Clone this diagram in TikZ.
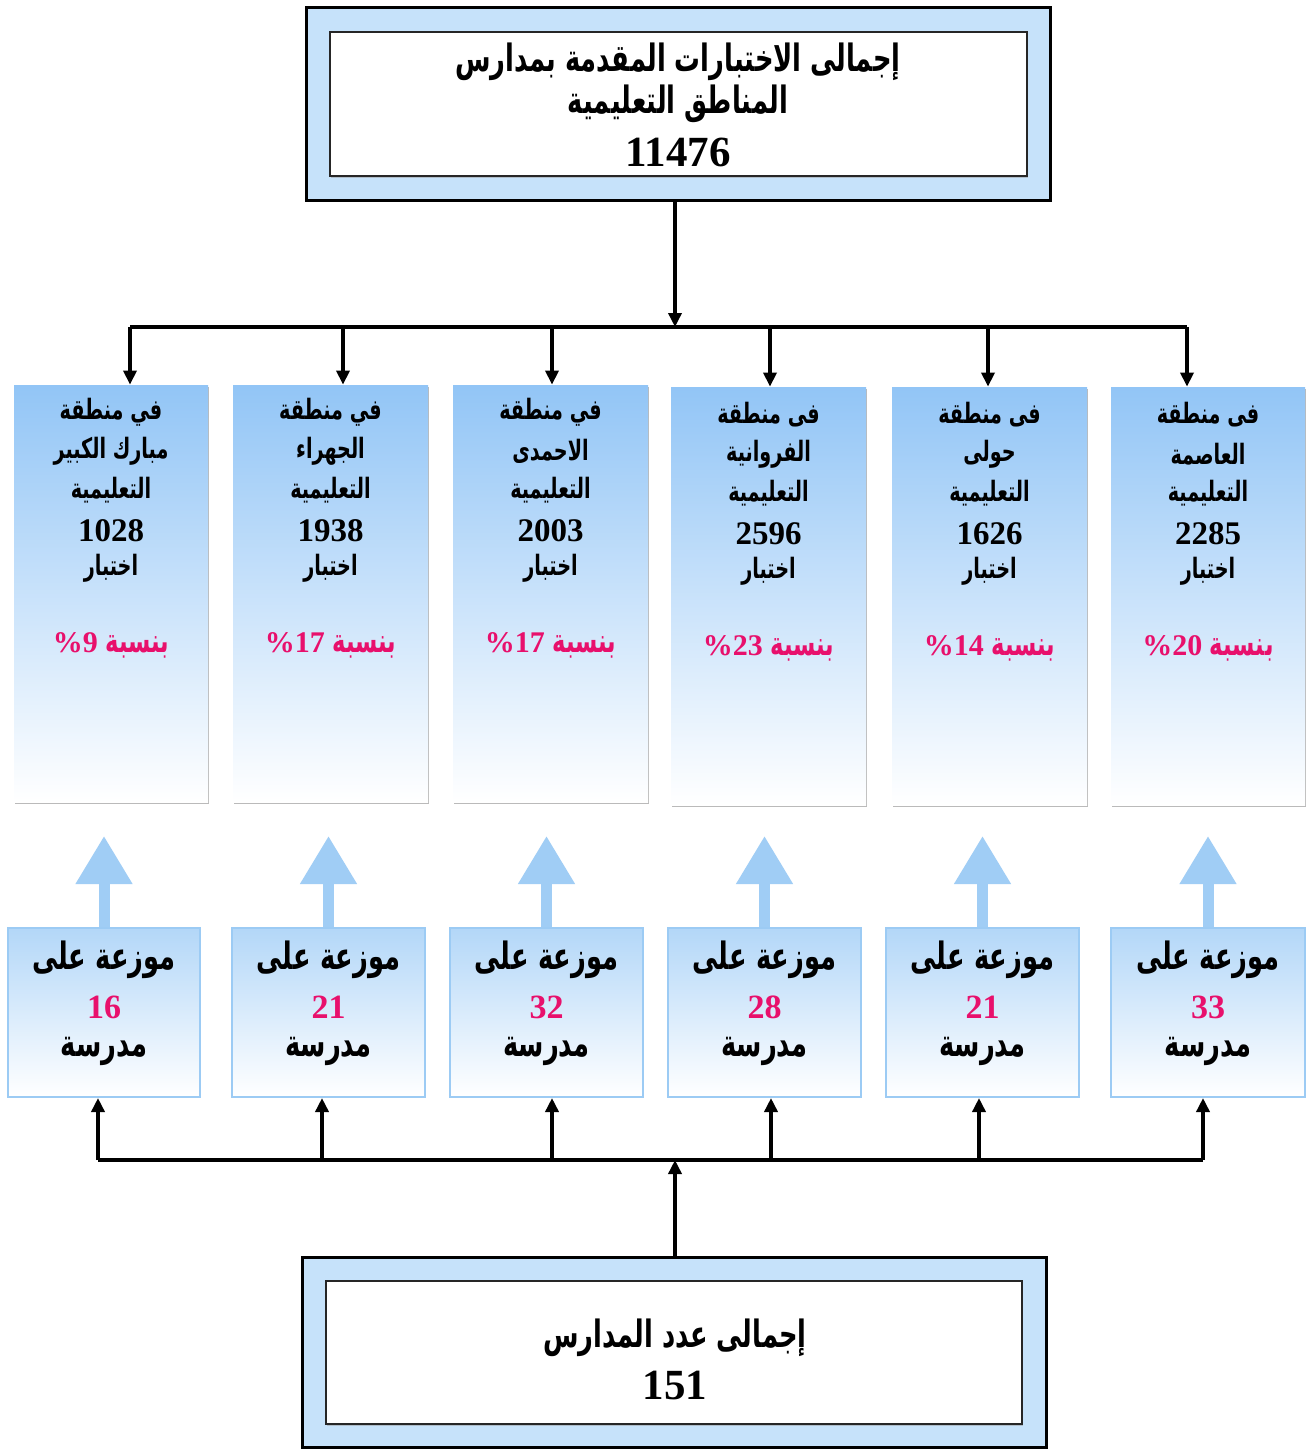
\documentclass[tikz,border=0pt]{standalone}
\usepackage{graphicx}
\usepackage{fontspec}
\setmainfont{Liberation Serif}
\newfontfamily\arabicfont[Script=Arabic]{DejaVu Sans}
\TeXXeTstate=1
\usetikzlibrary{arrows.meta,shadows,fit,calc}
\definecolor{outerblue}{HTML}{C6E2FA}
\definecolor{topblue}{HTML}{92C5F6}
\definecolor{lowtop}{HTML}{B3D7F8}
\definecolor{lowborder}{HTML}{9CCBF4}
\definecolor{arrowblue}{HTML}{A0CDF5}
\definecolor{pinkc}{HTML}{E8106C}
\newcommand\artxt[1]{\scalebox{0.78}[1.14]{\arabicfont\bfseries\beginR #1\endR}}
\begin{document}
\begin{tikzpicture}[x=0.5pt,y=-0.5pt,
  outerbox/.style={draw=black, line width=1.5pt, fill=outerblue, inner sep=0pt,
    drop shadow={shadow xshift=0.6pt, shadow yshift=-0.8pt, fill=black!45, opacity=0.6}},
  innerbox/.style={draw=black!85, line width=1.4pt, fill=white, inner sep=0pt,
    drop shadow={shadow xshift=0.6pt, shadow yshift=-0.8pt, fill=black!40, opacity=0.5}},
  regbox/.style={draw=none, top color=topblue, bottom color=white, inner sep=0pt,
    drop shadow={shadow xshift=0.6pt, shadow yshift=-1.2pt, fill=black!45, opacity=0.6}},
  lowbox/.style={draw=lowborder, line width=1pt, top color=lowtop, bottom color=white, inner sep=0pt},
  conn/.style={draw=black, line width=2pt},
  arr/.style={conn, -{Triangle[length=7pt,width=6.5pt]}},
  bluearrow/.style={draw=arrowblue, line width=5.5pt, -{Triangle[length=24pt,width=27pt]}},
  bigar/.style={inner sep=0pt, font=\fontsize{16.5}{19}\selectfont},
  bignum/.style={inner sep=0pt, font=\fontsize{21.5}{24}\selectfont\bfseries},
  regar/.style={inner sep=0pt, font=\fontsize{12.3}{14}\selectfont},
  regnum/.style={inner sep=0pt, font=\fontsize{16.5}{18}\selectfont\bfseries},
  pct/.style={inner sep=0pt, text=pinkc, font=\fontsize{15}{18}\selectfont\bfseries},
  lowar/.style={inner sep=0pt, font=\fontsize{16.5}{18}\selectfont},
  lownum/.style={inner sep=0pt, text=pinkc, font=\fontsize{17}{19}\selectfont\bfseries}
]
\fill[white] (0,0) rectangle (1310,1450);
\useasboundingbox (0,0) rectangle (1310,1450);

% ---------- top total box ----------
\node[outerbox, fit={(306,8)(1050,200)}] (topout) {};
\node[innerbox, fit={(330,32)(1027,176)}] (topin) {};
\node[bigar] (tl1) at (678,62) {\artxt{إجمالى الاختبارات  المقدمة بمدارس}};
\node[bigar] (tl2) at (678,104) {\artxt{المناطق  التعليمية}};
\node[bignum] (tl3) at (678,152) {11476};

% ---------- region boxes ----------
\foreach \i/\l/\r/\yt/\yb/\dy/\a/\b/\n/\p in {
  1/14/208/385/802/0/في/مبارك الكبير/1028/9,
  2/233/428/385/802/0/في/الجهراء/1938/17,
  3/453/648/385/802/0/في/الاحمدى/2003/17,
  4/671/866/387/805/3/فى/الفروانية/2596/23,
  5/892/1087/387/805/3/فى/حولى/1626/14,
  6/1111/1305/387/805/3/فى/العاصمة/2285/20}{
  \node[regbox, fit={(\l,\yt)(\r,\yb)}] (r\i) {};
  \node[regar] (r\i a) at ({(\l+\r)/2},{412+\dy}) {\artxt{\a{} منطقة}};
  \node[regar] (r\i b) at ({(\l+\r)/2},{451+\dy}) {\artxt{\b}};
  \node[regar] (r\i c) at ({(\l+\r)/2},{490+\dy}) {\artxt{التعليمية}};
  \node[regnum] (r\i d) at ({(\l+\r)/2},{531+\dy}) {\n};
  \node[regar] (r\i e) at ({(\l+\r)/2},{568+\dy}) {\artxt{اختبار}};
  \node[pct] (r\i f) at ({(\l+\r)/2},{645+\dy}) {\%\p\ {\fontsize{14.5}{16}\selectfont\artxt{بنسبة}}};
}

% ---------- top bus ----------
\coordinate (bus1) at (675,327);
\draw[arr] (topout.south -| bus1) -- (bus1);
\draw[conn] (130,327) coordinate (bl) -- (1187,327) coordinate (br);
\foreach \i/\x in {1/130,2/343,3/552,4/770,5/988,6/1187}{
  \coordinate (d\i) at (\x,327);
  \draw[arr] (d\i) -- (d\i |- r\i.north);
}

% ---------- school boxes ----------
\foreach \i/\l/\r/\n in {1/8/200/16, 2/232/425/21, 3/450/643/32,
  4/668/861/28, 5/886/1079/21, 6/1111/1305/33}{
  \node[lowbox, fit={(\l,928)(\r,1097)}] (s\i) {};
  \node[lowar] (s\i a) at ({(\l+\r)/2},960) {\artxt{موزعة على}};
  \node[lownum] (s\i b) at ({(\l+\r)/2},1007) {\n};
  \node[lowar] (s\i c) at ({(\l+\r)/2},1051) {\artxt{مدرسة}};
  \draw[bluearrow] (s\i.north) -- ++(0,-91);
}

% ---------- bottom bus ----------
\coordinate (bus2) at (675,1160);
\draw[conn] (98,1160) -- (1203,1160);
\foreach \i/\x in {1/98,2/322,3/552,4/771,5/979,6/1203}{
  \coordinate (u\i) at (\x,1160);
  \draw[arr] (u\i) -- (u\i |- s\i.south);
}

% ---------- bottom total box ----------
\node[outerbox, fit={(302,1257)(1046,1447)}] (botout) {};
\node[innerbox, fit={(326,1281)(1022,1424)}] (botin) {};
\node[bigar] (bl1) at (675,1338) {\artxt{إجمالى عدد المدارس}};
\node[bignum] (bl2) at (675,1385) {151};
\draw[arr] (botout.north -| bus2) -- (bus2);
\end{tikzpicture}
\end{document}
